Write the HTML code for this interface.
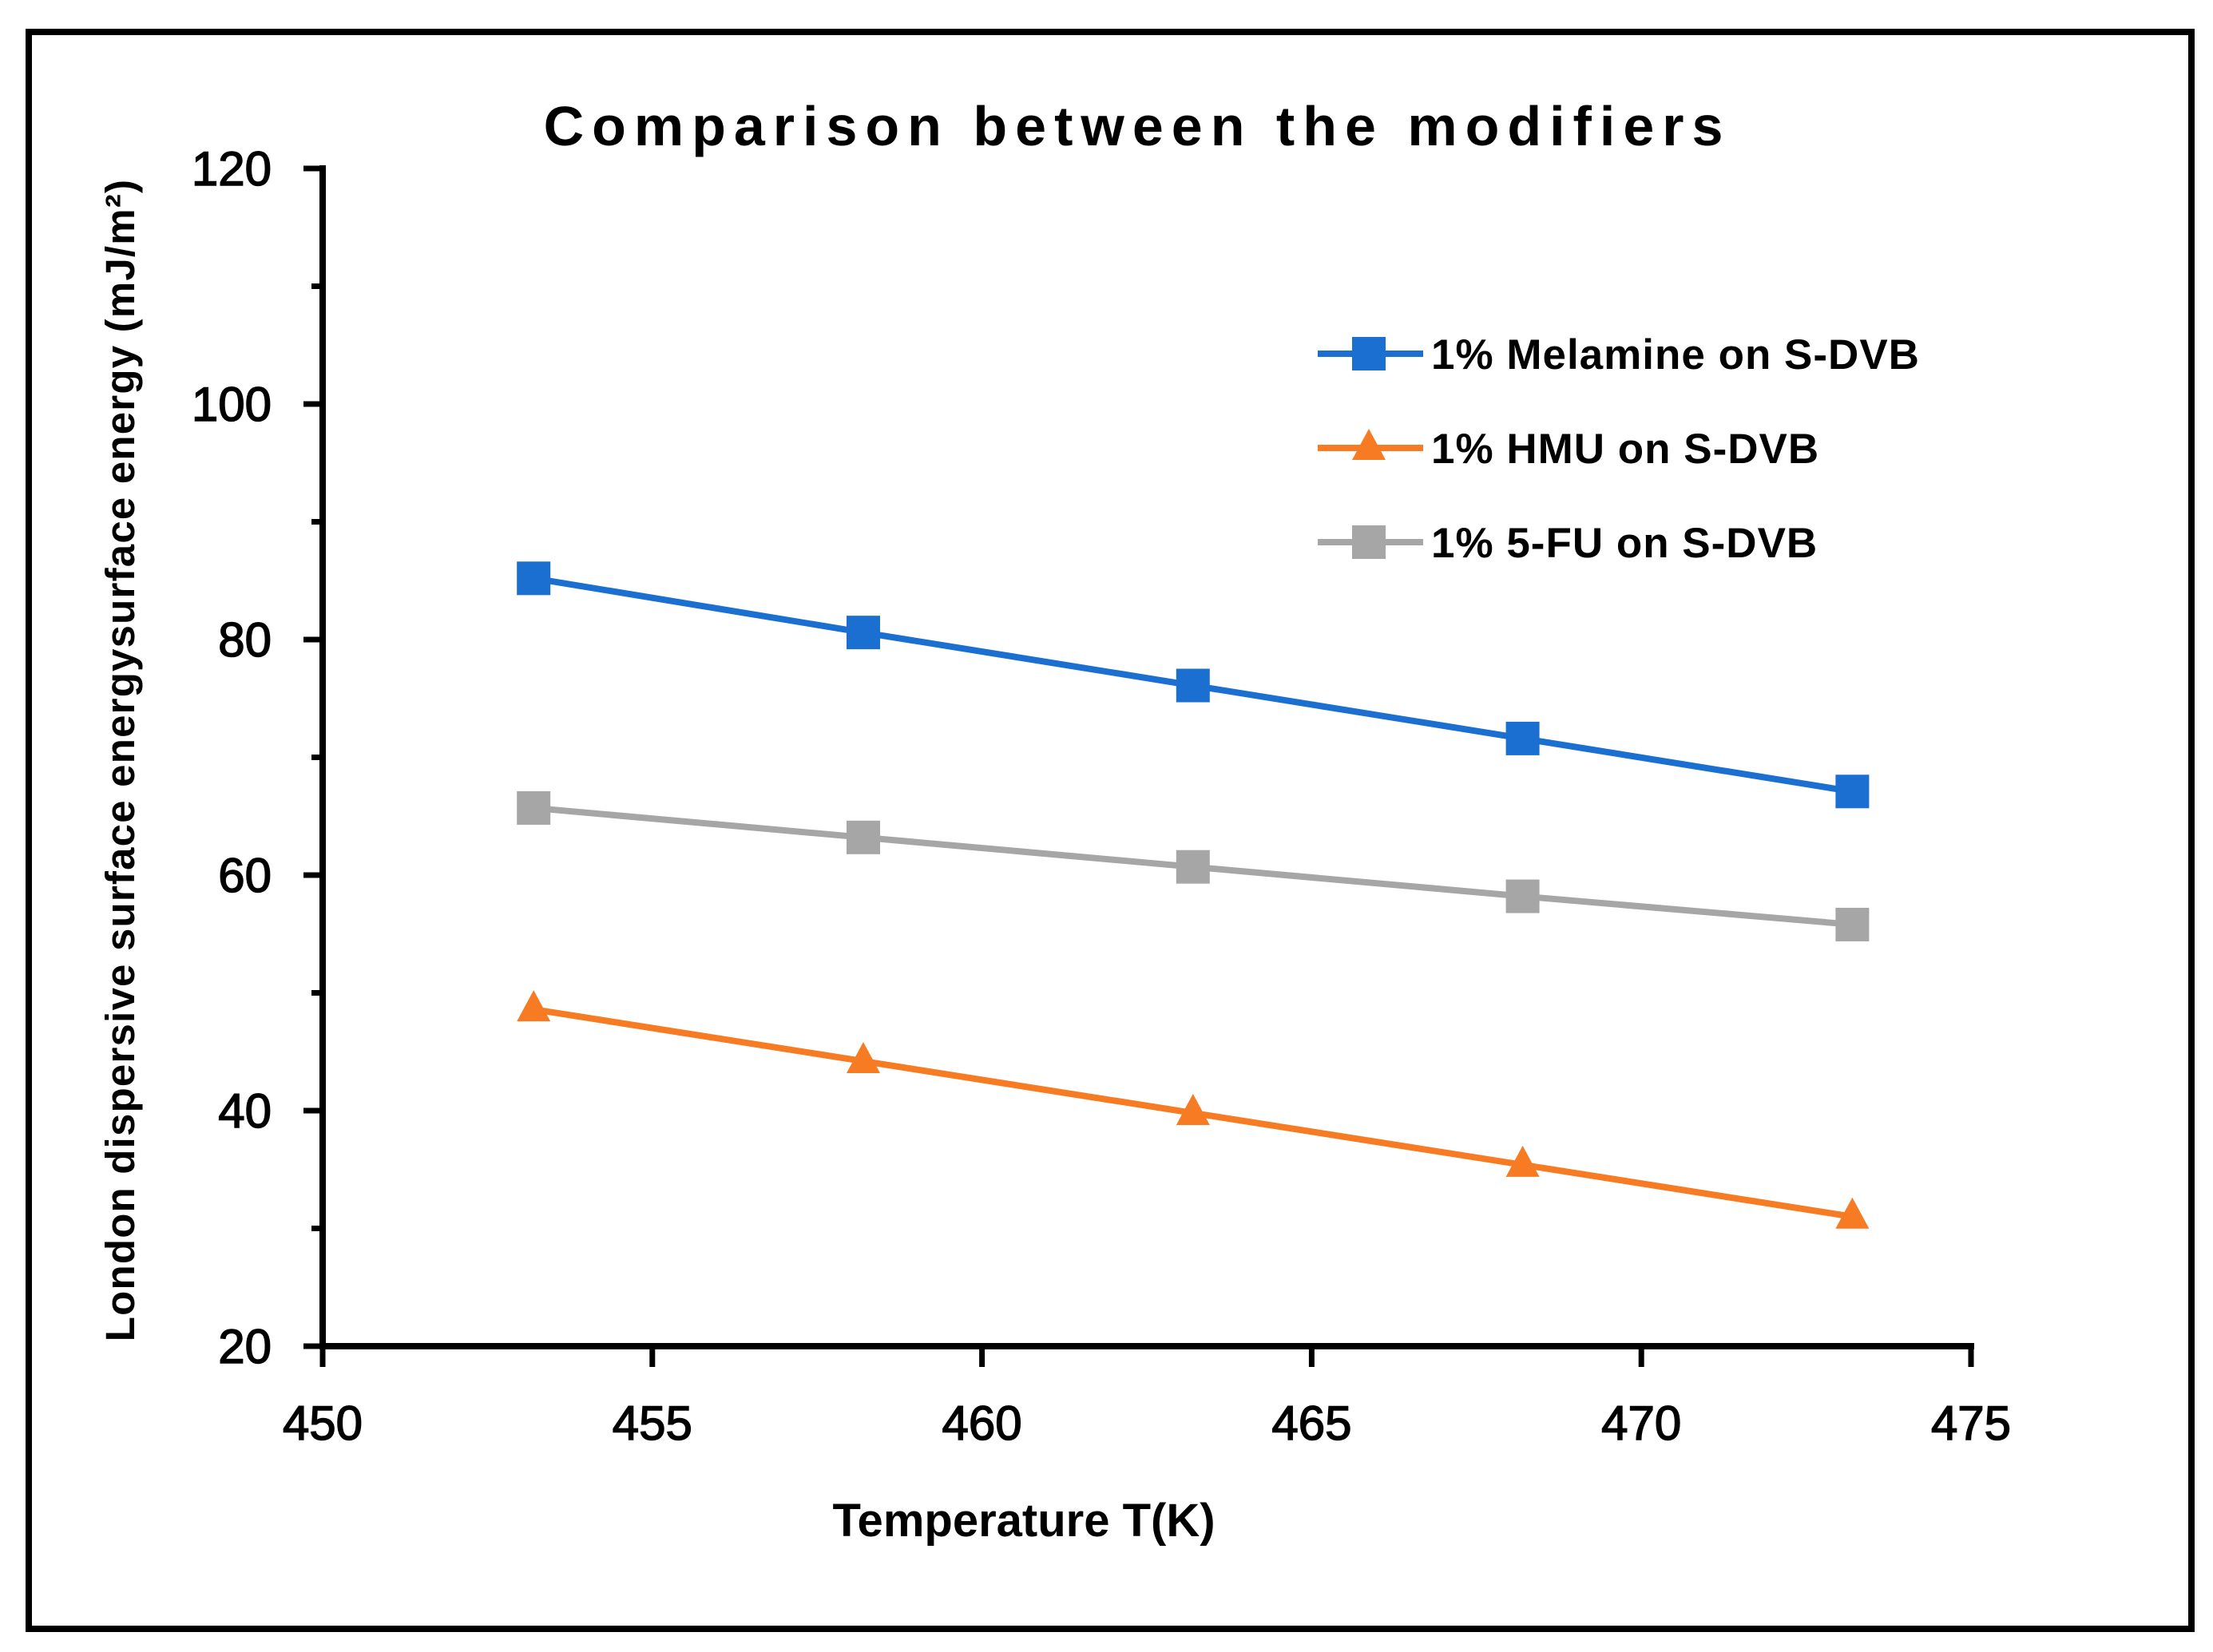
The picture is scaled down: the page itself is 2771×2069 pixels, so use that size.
<!DOCTYPE html>
<html><head><meta charset="utf-8"><style>
html,body{margin:0;padding:0;background:#fff;}
svg{display:block;}
text{font-family:"Liberation Sans",sans-serif;fill:#000;}
</style></head><body>
<svg id="chart" width="2771" height="2069" viewBox="0 0 2771 2069" xmlns="http://www.w3.org/2000/svg">
<rect x="36" y="40" width="2708" height="2000" fill="none" stroke="#000" stroke-width="8"/>
<text x="1424" y="182" text-anchor="middle" font-size="70" font-weight="bold" letter-spacing="10">Comparison between the modifiers</text>
<g id="axes"></g>
<g id="series"></g>
<text x="1282" y="1924" text-anchor="middle" font-size="58" font-weight="bold">Temperature T(K)</text>
<text transform="translate(168,952) rotate(-90)" text-anchor="middle" font-size="51" font-weight="bold" letter-spacing="1.2">London dispersive surface energysurface energy (mJ/m²)</text>
<g id="legend"></g>
</svg>
<script>
const temps = [453.2, 458.2, 463.2, 468.2, 473.2];
const melamine = [85.2, 80.6, 76.1, 71.6, 67.1];
const hmu = [48.6, 44.2, 39.8, 35.4, 31.0];
const fu = [65.7, 63.2, 60.7, 58.2, 55.8];
const xTicks = [450, 455, 460, 465, 470, 475];
const yTicks = [20, 40, 60, 80, 100, 120];
const seriesNames = ["1% Melamine on S-DVB", "1% HMU on S-DVB", "1% 5-FU on S-DVB"];

const NS = "http://www.w3.org/2000/svg";
const X0 = 404, X1 = 2468, Y0 = 1686, Y1 = 211;
function sx(v){ return X0 + (v - 450) / 25 * (X1 - X0); }
function sy(v){ return Y0 - (v - 20) / 100 * (Y0 - Y1); }
function mk(tag, attrs, parent){
  const e = document.createElementNS(NS, tag);
  for (const k in attrs) e.setAttribute(k, attrs[k]);
  parent.appendChild(e);
  return e;
}
const axes = document.getElementById('axes');
let el = mk('line', {x1:X0, y1:Y1-4, x2:X0, y2:Y0+4, stroke:'#000', 'stroke-width':8}, axes);


el = mk('line', {x1:X0-4, y1:Y0, x2:X1+4, y2:Y0, stroke:'#000', 'stroke-width':8}, axes);


yTicks.forEach(v => {
  const t = mk('line', {x1:X0-24, y1:sy(v), x2:X0, y2:sy(v), stroke:'#000', 'stroke-width':7}, axes);
  
  
  const l = mk('text', {x:340, y:sy(v)+21, 'text-anchor':'end', 'font-size':60, 'stroke':'#000', 'stroke-width':1.5}, axes);
  l.textContent = v;
  
  
  if (v < 120) {
    const m = mk('line', {x1:X0-14, y1:sy(v+10), x2:X0, y2:sy(v+10), stroke:'#000', 'stroke-width':7}, axes);
    
    
  }
});
xTicks.forEach(v => {
  const t = mk('line', {x1:sx(v), y1:Y0, x2:sx(v), y2:Y0+26, stroke:'#000', 'stroke-width':7}, axes);
  
  
  const l = mk('text', {x:sx(v), y:1803, 'text-anchor':'middle', 'font-size':60, 'stroke':'#000', 'stroke-width':1.5}, axes);
  l.textContent = v;
  
  
});
const sg = document.getElementById('series');
const lg = document.getElementById('legend');
function marker(shape, cx, cy, color, parent){
  let m;
  if (shape === 'sq') m = mk('rect', {x:cx-21, y:cy-21, width:42, height:42, fill:color}, parent);
  else m = mk('polygon', {points:`${cx},${cy-24} ${cx+21},${cy+15} ${cx-21},${cy+15}`, fill:color}, parent);
  return m;
}
const defs = [[melamine,'#1a6fd0','sq','melamine'],[hmu,'#f77b22','tri','hmu'],[fu,'#a6a6a6','sq','5fu']];
defs.forEach((d, i) => {
  const [vals, color, shape, key] = d;
  const pl = mk('polyline', {points: vals.map((v,j)=>sx(temps[j])+','+sy(v)).join(' '), fill:'none', stroke:color, 'stroke-width':8}, sg);
  
  
  vals.forEach((v, j) => {
    const m = marker(shape, sx(temps[j]), sy(v), color, sg);
    
    
  });
  const ly = 443 + i * 118;
  const ll = mk('line', {x1:1650, y1:ly, x2:1782, y2:ly, stroke:color, 'stroke-width':8}, lg);
  
  
  const lm = marker(shape, 1714, ly, color, lg);
  
  
  const lt = mk('text', {x:1792, y:ly+19, 'font-size':53, 'font-weight':'bold', 'letter-spacing':1}, lg);
  lt.textContent = seriesNames[i];
  
  
});
</script>
</body></html>
